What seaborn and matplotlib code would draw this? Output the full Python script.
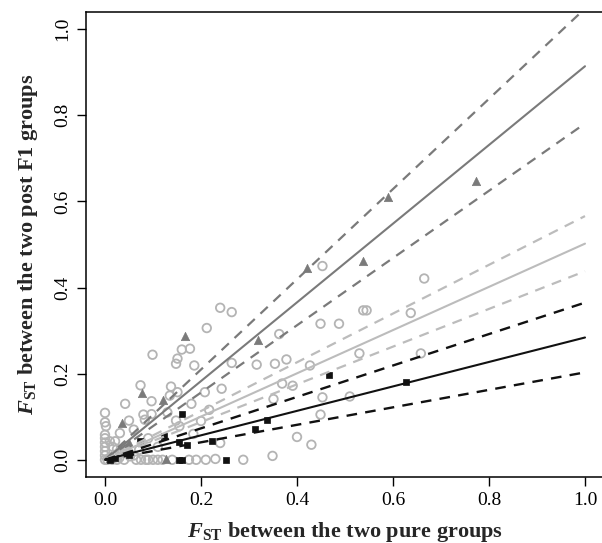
import matplotlib
matplotlib.use("Agg")
import matplotlib.pyplot as plt
import seaborn as sns
import pandas as pd

# ---------------- data ----------------
tri_x = [0.59, 0.773, 0.42, 0.537, 0.319, 0.167, 0.078, 0.12, 0.035, 0.128, 0.01, 0.05]
tri_y = [0.61, 0.647, 0.446, 0.461, 0.279, 0.287, 0.155, 0.138, 0.085, 0.002, 0.005, 0.04]

sq_x = [0.467, 0.628, 0.16, 0.338, 0.3125, 0.122, 0.072, 0.17, 0.222, 0.155, 0.16, 0.253, 0.155, 0.02, 0.05, 0.01]
sq_y = [0.197, 0.18, 0.106, 0.093, 0.071, 0.056, 0.043, 0.035, 0.043, 0.041, 0.0, 0.0, 0.0, 0.005, 0.01, 0.0]

circ_x = [0.453, 0.665, 0.538, 0.545, 0.637, 0.449, 0.4875, 0.363, 0.316, 0.354, 0.378, 0.427,
          0.53, 0.658, 0.369, 0.391, 0.351, 0.453, 0.51, 0.449, 0.24, 0.264, 0.212, 0.099,
          0.16, 0.177, 0.151, 0.148, 0.186, 0.264, 0.074, 0.1375, 0.151, 0.208, 0.243, 0.042,
          0.097, 0.135, 0.0, 0.08, 0.097, 0.217, 0.0, 0.002, 0.031, 0.05, 0.083, 0.148,
          0.155, 0.184, 0.24, 0.0, 0.01, 0.021, 0.042, 0.071, 0.288, 0.349, 0.052, 0.40, 0.43,
          0.0, 0.0, 0.0, 0.0, 0.0, 0.0, 0.005, 0.01, 0.015, 0.02, 0.025, 0.03, 0.035, 0.04,
          0.045, 0.06, 0.065, 0.075, 0.085, 0.09, 0.1, 0.11, 0.12, 0.14, 0.175, 0.19, 0.21,
          0.23, 0.11, 0.09, 0.06, 0.13, 0.18, 0.2, 0.025, 0.016]
circ_y = [0.45, 0.421, 0.347, 0.347, 0.341, 0.316, 0.316, 0.292, 0.221, 0.223, 0.233, 0.219,
          0.247, 0.247, 0.177, 0.172, 0.141, 0.145, 0.147, 0.105, 0.353, 0.343, 0.306, 0.244,
          0.256, 0.258, 0.235, 0.223, 0.219, 0.225, 0.173, 0.17, 0.157, 0.157, 0.165, 0.13,
          0.136, 0.149, 0.109, 0.105, 0.106, 0.116, 0.087, 0.078, 0.062, 0.091, 0.093, 0.091,
          0.078, 0.06, 0.039, 0.058, 0.043, 0.043, 0.031, 0.023, 0.0, 0.009, 0.008, 0.053, 0.035,
          0.05, 0.04, 0.03, 0.02, 0.01, 0.0, 0.0, 0.005, 0.0, 0.01, 0.0, 0.005, 0.015, 0.0,
          0.02, 0.01, 0.0, 0.0, 0.0, 0.0, 0.0, 0.0, 0.0, 0.0, 0.0, 0.0, 0.0,
          0.002, 0.03, 0.05, 0.07, 0.11, 0.13, 0.09, 0.025, 0.03]

# regression slopes through origin (fit, upper CI, lower CI)
tri_slopes = [0.914, 1.048, 0.781]
circ_slopes = [0.502, 0.566, 0.438]
sq_slopes = [0.284, 0.365, 0.203]
line_x = [0.0, 1.0]

x_ticks = [0.0, 0.2, 0.4, 0.6, 0.8, 1.0]
y_ticks = [0.0, 0.2, 0.4, 0.6, 0.8, 1.0]

# ---------------- style ----------------
sns.set_theme(style="white")
plt.rcParams['font.family'] = ['Liberation Serif', 'DejaVu Serif']
plt.rcParams['mathtext.fontset'] = 'custom'
plt.rcParams['mathtext.rm'] = 'Liberation Serif'
plt.rcParams['mathtext.it'] = 'Liberation Serif:italic'
plt.rcParams['mathtext.bf'] = 'Liberation Serif:bold'
plt.rcParams['mathtext.bfit'] = 'Liberation Serif:bold:italic'

C_DARK = '#7a7a7a'
C_LIGHT = '#b4b4b4'
C_LIGHT_LINE = '#bcbcbc'
C_BLACK = '#111111'

fig = plt.figure(figsize=(6.02, 5.43), dpi=100)
ax = fig.add_axes([85.8 / 602, (543 - 477) / 543, 518.4 / 602, (477 - 12) / 543])

# points
sns.scatterplot(x=circ_x, y=circ_y, ax=ax, marker='o', s=38, facecolors='none',
                edgecolor=C_LIGHT, linewidth=1.3, zorder=2)
sns.scatterplot(x=tri_x, y=tri_y, ax=ax, marker='^', s=36, color=C_DARK,
                edgecolor=C_DARK, linewidth=0.5, zorder=3)
sns.scatterplot(x=sq_x, y=sq_y, ax=ax, marker='s', s=20, color=C_BLACK,
                edgecolor=C_BLACK, linewidth=0.5, zorder=3)

# lines
def draw_group(slopes, color, lw, dlw):
    for i, b in enumerate(slopes):
        yy = [v * b for v in line_x]
        sns.lineplot(x=line_x, y=yy, ax=ax, color=color, lw=(lw if i == 0 else dlw), zorder=4)
        l = ax.lines[-1]
        if i > 0:
            l.set_dashes((4.5, 3.5))

draw_group(tri_slopes, C_DARK, 1.5, 1.6)
draw_group(circ_slopes, C_LIGHT_LINE, 1.5, 1.6)
draw_group(sq_slopes, C_BLACK, 1.5, 1.7)

ax.set_xlim(-0.04, 1.04)
ax.set_ylim(-0.04, 1.04)
ax.set_xticks(x_ticks)
ax.set_yticks(y_ticks)
ax.set_xticklabels([f"{t:.1f}" for t in x_ticks])
ax.set_yticklabels([f"{t:.1f}" for t in y_ticks])
ax.tick_params(axis='both', direction='out', length=6.5, width=1.0, labelsize=14,
               colors='black', bottom=True, left=True, pad=4)
ax.tick_params(axis='y', labelrotation=90)
for lab in ax.get_yticklabels():
    lab.set_va('center')
for sp in ax.spines.values():
    sp.set_visible(True)
    sp.set_color('black')
    sp.set_linewidth(1.1)

ax.set_xlabel(r'$\mathbfit{F}_{\mathbf{ST}}$ between the two pure groups',
              fontsize=16, fontweight='bold', labelpad=8)
ax.set_ylabel(r'$\mathbfit{F}_{\mathbf{ST}}$ between the two post F1 groups',
              fontsize=16, fontweight='bold', labelpad=10)

fig.savefig('out.png', dpi=100)
